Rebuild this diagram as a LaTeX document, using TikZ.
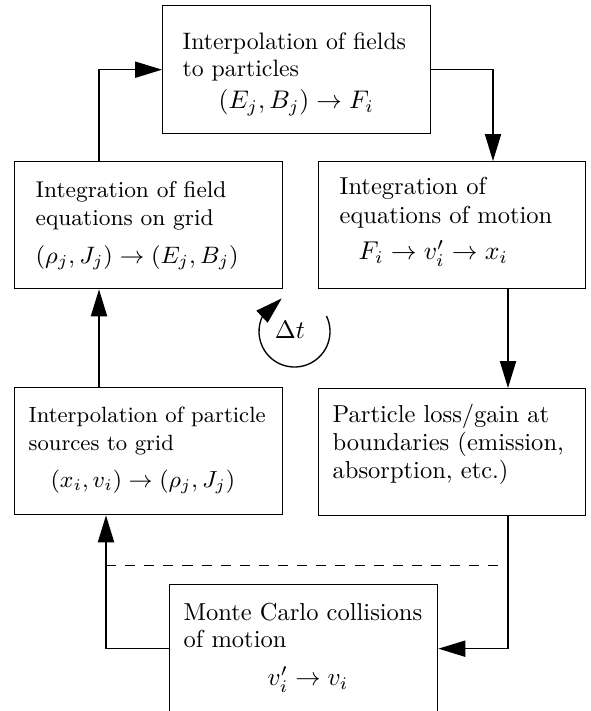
\RequirePackage{fix-cm}
\documentclass[tikz,border=0pt]{standalone}
\usetikzlibrary{arrows.meta,bending,calc}
\newdimen\pu \pu=0.408pt
% #1 font size, #2 baselineskip px, #3 width px, #4 height px, #5 left pad px, #6 first baseline px, #7 text
\newcommand{\bxbody}[7]{%
  \parbox[c][#4\pu][t]{#3\pu}{%
    \fontsize{#1}{#1}\selectfont
    \raggedright
    \baselineskip=#2\pu \lineskiplimit=-100pt
    \leftskip=#5\pu
    \vspace*{\dimexpr #6\pu-0.7\baselineskip\relax}%
    \rule[-0.3\baselineskip]{0pt}{\baselineskip}#7\par}}
% math line at a slightly larger size
\newcommand{\mline}[2]{{\fontsize{#1}{#1}\selectfont$#2$}}
\begin{document}
\begin{tikzpicture}[x=0.408pt, y=-0.408pt,
  procbox/.style={draw, inner sep=0pt, line width=0.55pt, anchor=north west},
  arr/.style={line width=0.55pt, -{Triangle[length=11pt,width=6.6pt]}},
  conn/.style={line width=0.55pt}]
\useasboundingbox (0,0) rectangle (591,711);

\node[procbox] (top) at (162,5) {\bxbody{9.7}{27}{268}{128}{20}{44}{Interpolation of fields\\to particles\\[5\pu]\hspace*{36\pu}\mline{10.4}{(E_j,B_j)\rightarrow F_i}}};
\node[procbox] (lm) at (14,161) {\bxbody{9.3}{28}{268}{127}{21}{36}{Integration of field\\equations on grid\\[10\pu]\mline{9.7}{(\rho_j,J_j)\rightarrow(E_j,B_j)}}};
\node[procbox] (rm) at (318,161) {\bxbody{10}{29}{267}{127}{21}{33}{Integration of\\equations of motion\\[7\pu]\hspace*{19\pu}\mline{10.5}{F_i\rightarrow v_i'\rightarrow x_i}}};
\node[procbox] (ll) at (14,387) {\bxbody{9}{28}{268}{127}{14}{35}{Interpolation of particle\\sources to grid\\[9\pu]\hspace*{22\pu}\mline{9.5}{(x_i,v_i)\rightarrow(\rho_j,J_j)}}};
\node[procbox] (lr) at (318,388) {\bxbody{10}{28}{267}{127}{14}{34}{Particle loss/gain at\\boundaries (emission,\\absorption, etc.)}};
\node[procbox] (bot) at (169,584) {\bxbody{10}{27}{268}{128}{14}{36}{Monte Carlo collisions\\of motion\\[11\pu]\hspace*{84\pu}\mline{10.3}{v_i'\rightarrow v_i}}};

\draw[arr] ($(lm.north west)+(85,0)$) |- (top.west);
\draw[arr] (top.east) -| ($(rm.north west)+(175,0)$);
\draw[arr] ($(rm.south west)+(190,0)$) -- ($(lr.north west)+(190,0)$);
\draw[arr] ($(lr.south west)+(190,0)$) |- (bot.east);
\draw[arr] (bot.west) -| ($(ll.south west)+(92,0)$);
\draw[arr] ($(ll.north west)+(85,0)$) -- ($(lm.south west)+(85,0)$);
\draw[conn, dash pattern=on 4.1pt off 3.7pt] ($(ll.south west)+(92,50)$) -- ($(lr.south west)+(190,49)$);

\node[inner sep=0pt] (dt) at (290,330) {\mline{10.3}{\Delta t}};
\coordinate (cyc) at (294.5,331.5);
\draw[arr] (cyc) ++(-26:35.5) arc[start angle=-26, end angle=249, radius=35.5];
\end{tikzpicture}
\end{document}
